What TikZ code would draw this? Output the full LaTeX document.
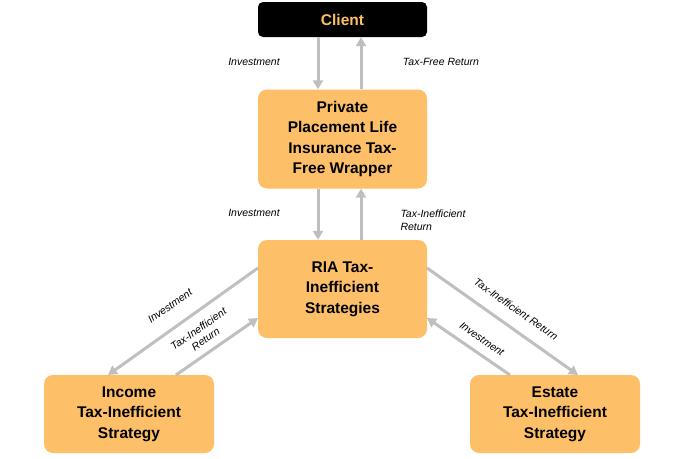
\documentclass[tikz,border=0pt]{standalone}
\usepackage{fontspec}
\setmainfont{Liberation Sans}
\usetikzlibrary{arrows.meta}
\begin{document}
\begin{tikzpicture}[x=1pt,y=-1pt,
 box/.style={draw=none, rounded corners=9pt, align=center, font=\bfseries\fontsize{15.5}{20.5}\selectfont},
 arr/.style={draw=black!25, line width=3pt, -{Triangle[length=9pt,width=10pt]}},
 lbl/.style={font=\itshape\fontsize{10.5}{12.5}\selectfont, align=left}]
\definecolor{boxor}{HTML}{FDBF67}
\tikzset{box/.append style={fill=boxor}}
\useasboundingbox (0,0) rectangle (687,458);
\node[box, fill=black, text=boxor, minimum width=169pt, minimum height=35pt, rounded corners=5pt] (client) at (342.5,19.5) {Client};
\node[box, minimum width=169pt, minimum height=99pt] (ppli) at (342.5,139) {Private\\Placement Life\\Insurance Tax-\\Free Wrapper};
\node[box, minimum width=169pt, minimum height=98pt] (ria) at (342.5,289) {RIA Tax-\\Inefficient\\Strategies};
\node[box, minimum width=170pt, minimum height=78pt] (inc) at (129,414) {Income\\Tax-Inefficient\\Strategy};
\node[box, minimum width=170pt, minimum height=78pt] (est) at (555,414) {Estate\\Tax-Inefficient\\Strategy};
\draw[arr] (client.south -| 318,0) -- (ppli.north -| 318,0);
\draw[arr] (ppli.north -| 361,0) -- (client.south -| 361,0);
\draw[arr] (ppli.south -| 318,0) -- (ria.north -| 318,0);
\draw[arr] (ria.north -| 361,0) -- (ppli.south -| 361,0);
\coordinate (r1) at (258,268); \coordinate (r2) at (258,318);
\coordinate (r3) at (427,268); \coordinate (r4) at (427,318);
\coordinate (i1) at (108,375); \coordinate (i2) at (176,375);
\coordinate (e1) at (578,375); \coordinate (e2) at (510,375);
\draw[arr] (r1) -- (i1);
\draw[arr] (i2) -- (r2);
\draw[arr] (r3) -- (e1);
\draw[arr] (e2) -- (r4);
\node[lbl] (l1) at (254,62) {Investment};
\node[lbl] (l2) at (441,62) {Tax-Free Return};
\node[lbl] (l3) at (254,213) {Investment};
\node[lbl] (l4) at (433,220) {Tax-Inefficient\\Return};
\node[lbl, rotate=35] (l5) at (170,306) {Investment};
\node[lbl, rotate=35, align=center] (l6) at (202,334) {Tax-Inefficient\\Return};
\node[lbl, rotate=-35] (l7) at (516,309) {Tax-Inefficient Return};
\node[lbl, rotate=-35] (l8) at (482,339) {Investment};
\end{tikzpicture}
\end{document}
